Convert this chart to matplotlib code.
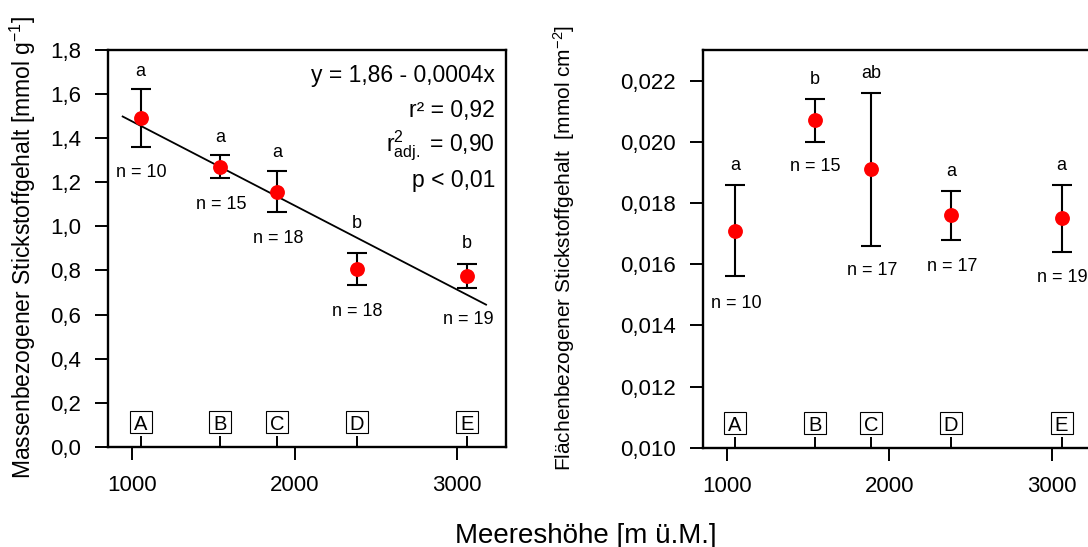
import numpy as np
import matplotlib.pyplot as plt
from matplotlib.ticker import FixedLocator, FuncFormatter

plt.rcParams['font.family'] = ['Liberation Sans', 'DejaVu Sans']
plt.rcParams['mathtext.fontset'] = 'custom'
plt.rcParams['mathtext.rm'] = 'Liberation Sans'
plt.rcParams['mathtext.it'] = 'Liberation Sans:italic'
plt.rcParams['mathtext.default'] = 'regular'

# Standorte und Meereshoehe [m ue.M.]
standorte = ['A', 'B', 'C', 'D', 'E']
hoehe = [1050, 1540, 1890, 2380, 3060]
hoehe_ticks = [1000, 2000, 3000]

# massenbezogen [mmol g-1]
masse = [1.49, 1.27, 1.155, 0.805, 0.775]
masse_err = [0.13, 0.053, 0.093, 0.073, 0.055]
masse_gruppe = ['a', 'a', 'a', 'b', 'b']
masse_n = [10, 15, 18, 18, 19]
masse_yticks = [0.0, 0.2, 0.4, 0.6, 0.8, 1.0, 1.2, 1.4, 1.6, 1.8]

# flaechenbezogen [mmol cm-2]
flaeche = [0.0171, 0.0207, 0.0191, 0.0176, 0.0175]
flaeche_err = [0.0015, 0.0007, 0.0025, 0.0008, 0.0011]
flaeche_gruppe = ['a', 'b', 'ab', 'a', 'a']
flaeche_n = [10, 15, 17, 17, 19]
flaeche_yticks = [0.010, 0.012, 0.014, 0.016, 0.018, 0.020, 0.022]

# Regression (massenbezogen)
regr_bereich = [940, 3177]
regr_text = ['y = 1,86 - 0,0004x', 'r² = 0,92',
             r'r$^{2}_{adj.}$ = 0,90', 'p < 0,01']

fig = plt.figure(figsize=(10.88, 5.47), dpi=100)
ax1 = fig.add_axes([0.0993, 0.1828, 0.3658, 0.7267])
ax2 = fig.add_axes([0.6457, 0.1815, 0.3658, 0.7271])


def komma(nachk):
    return FuncFormatter(lambda v, p: f'{v:.{nachk}f}'.replace('.', ','))


def panel(ax, werte, fehler, gruppen, nn, ylim, yticks, nachk,
          off_gr, off_n):
    ax.errorbar(hoehe, werte, yerr=fehler, fmt='none', ecolor='black',
                elinewidth=1.5, capsize=7.4, capthick=1.5, zorder=3)
    ax.plot(hoehe, werte, 'o', color='#ff0000', ms=10.7, mec='none', zorder=4)
    ax.set_xlim(850, 3300)
    ax.set_ylim(*ylim)
    ax.yaxis.set_major_locator(FixedLocator(yticks))
    ax.yaxis.set_major_formatter(komma(nachk))
    ax.xaxis.set_major_locator(FixedLocator(hoehe_ticks))
    ax.xaxis.set_minor_locator(FixedLocator(hoehe))
    ax.tick_params(axis='both', which='major', direction='out', length=9.5,
                   width=1.4, labelsize=16, pad=10)
    ax.tick_params(axis='x', which='major', pad=11)
    ax.tick_params(axis='x', which='minor', direction='in', length=8, width=1.4)
    for sp in ax.spines.values():
        sp.set_linewidth(1.7)
    # Standort-Kaestchen
    ax.plot(hoehe, [0.062] * len(hoehe), 's', transform=ax.get_xaxis_transform(),
            ms=15.8, mfc='white', mec='black', mew=0.8, zorder=5, clip_on=False)
    for x, s in zip(hoehe, standorte):
        ax.annotate(s, (x, 0.062), xycoords=('data', 'axes fraction'),
                    xytext=(0, -7.5), textcoords='offset pixels',
                    ha='center', va='baseline', fontsize=14.5, zorder=6)
    # Gruppenbuchstaben und Stichprobenumfang
    for i, x in enumerate(hoehe):
        ax.annotate(gruppen[i], (x, werte[i] + fehler[i]), xytext=(0, off_gr[i]),
                    textcoords='offset pixels', ha='center', va='center',
                    fontsize=13)
        ax.annotate(f'n = {nn[i]}', (x, werte[i] - fehler[i]),
                    xytext=(1, off_n[i]), textcoords='offset pixels',
                    ha='center', va='center', fontsize=13)


panel(ax1, masse, masse_err, masse_gruppe, masse_n, (0, 1.8), masse_yticks, 1,
      [18, 17, 19, 30, 20], [-26, -26, -26, -26, -31])
panel(ax2, flaeche, flaeche_err, flaeche_gruppe, flaeche_n, (0.010, 0.023),
      flaeche_yticks, 3, [19, 19, 19, 19, 19], [-27, -25, -25, -27, -26])

# Regressionsgerade
k = np.polyfit(hoehe, masse, 1)
xr = np.array(regr_bereich)
ax1.plot(xr, np.polyval(k, xr), color='black', lw=1.3, zorder=2)
for yy, s in zip([0.919, 0.831, 0.743, 0.655], regr_text):
    ax1.text(0.972, yy, s, transform=ax1.transAxes, ha='right', va='baseline',
             fontsize=16.5)

fig.text(23 / 1088, 0.5475, 'Massenbezogener Stickstoffgehalt [mmol g$^{-1}$]',
         rotation=90, ha='center', va='center', fontsize=16.5)
fig.text(564.5 / 1088, 0.5475,
         'Flächenbezogener Stickstoffgehalt  [mmol cm$^{-2}$]',
         rotation=90, ha='center', va='center', fontsize=15)
fig.text(0.538, 0.0075, 'Meereshöhe [m ü.M.]', ha='center', va='baseline',
         fontsize=20)

fig.savefig('out.png', dpi=100)
